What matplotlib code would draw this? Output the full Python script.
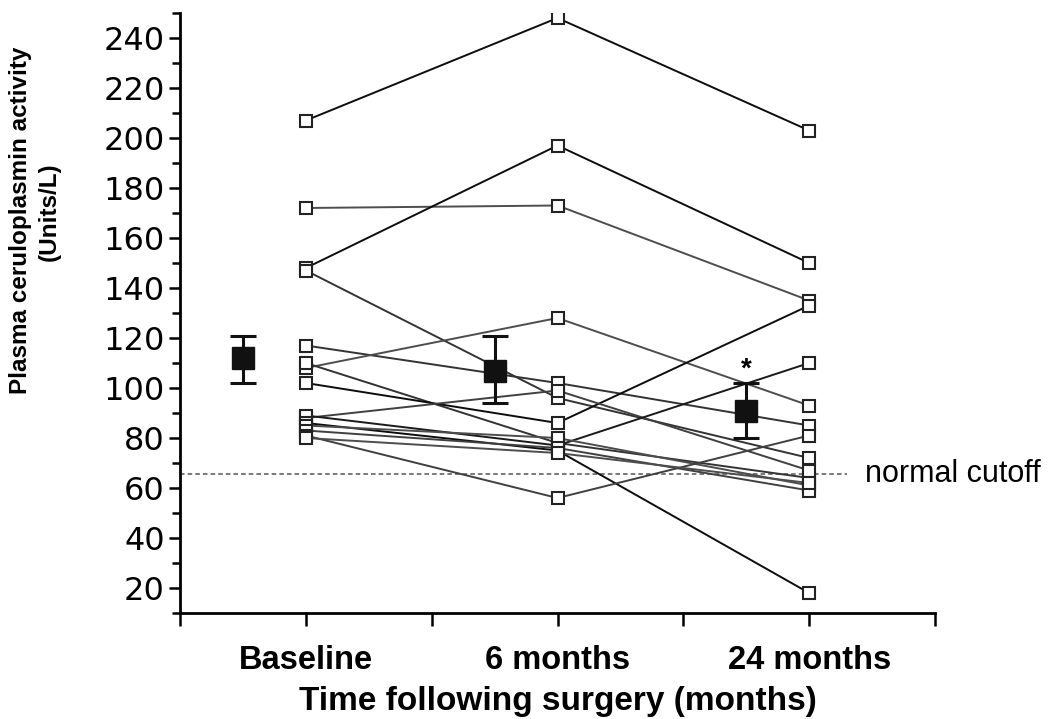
import matplotlib
matplotlib.use("Agg")
import matplotlib.pyplot as plt
from matplotlib.ticker import MultipleLocator

plt.rcParams['font.family'] = ['Liberation Sans', 'DejaVu Sans']

# ---- data ----
timepoints = ["Baseline", "6 months", "24 months"]
baseline = [207, 172, 148, 147, 117, 108, 110, 102, 88, 89, 86, 85, 83, 81, 80]
month6 = [248, 173, 197, 96, 102, 128, 78, 86, 99, 77, 75, 80, 76, 56, 74]
month24 = [203, 135, 150, 72, 85, 93, 64, 133, 67, 110, 18, 61, 59, 81, 62]
line_grey = [0.05, 0.3, 0.05, 0.2, 0.2, 0.3, 0.2, 0.05, 0.25, 0.1, 0.05, 0.3, 0.25, 0.25, 0.3]
mean_vals = [112, 107, 91]
mean_err_lo = [10, 13, 11]
mean_err_hi = [9, 14, 11]
cutoff = 65.5

fig = plt.figure(figsize=(10.5, 7.19), dpi=100)
ax = fig.add_axes([180/1050, 1-613/719, (935-180)/1050, (613-13)/719])

xs = [0, 1, 2]
for i in range(len(baseline)):
    g = line_grey[i]
    ax.plot(xs, [baseline[i], month6[i], month24[i]], '-', color=(g, g, g),
            lw=1.4, zorder=2)
    ax.plot(xs, [baseline[i], month6[i], month24[i]], 's', ms=8.5, mfc='white',
            mec='#222222', mew=1.5, zorder=3, ls='none')

mx = [x - 0.25 for x in xs]
ax.errorbar(mx, mean_vals, yerr=[mean_err_lo, mean_err_hi], fmt='s', ms=16,
            color='#111111', mfc='#111111', mec='#111111', ecolor='#111111',
            elinewidth=2.2, capsize=9.5, capthick=2.2, zorder=5)
ax.text(mx[2], mean_vals[2] + mean_err_hi[2] + 0.3, '*', ha='center', va='bottom',
        fontsize=20, fontweight='bold')

ax.plot([-0.5, 2.15], [cutoff, cutoff], ls=(0, (3, 2)), color='#555555', lw=1.1,
        zorder=1, clip_on=False)
ax.text(2.22, cutoff, 'normal cutoff', va='center', ha='left', fontsize=22)

ax.set_xlim(-0.5, 2.5)
ax.set_ylim(10, 250)
ax.set_xticks(xs)
ax.set_xticklabels(timepoints, fontsize=23.5, fontweight='bold')
ax.xaxis.set_minor_locator(MultipleLocator(0.5))
ax.set_yticks(range(20, 241, 20))
ax.set_yticklabels([str(v) for v in range(20, 241, 20)], fontsize=23,
                   family=['DejaVu Sans'])
ax.yaxis.set_minor_locator(MultipleLocator(10))
ax.tick_params(axis='y', which='major', length=8, width=1.8, pad=3)
ax.tick_params(axis='y', which='minor', length=6, width=1.8)
ax.tick_params(axis='x', which='both', length=9, width=1.8, pad=14)
for s in ['top', 'right']:
    ax.spines[s].set_visible(False)
for s in ['left', 'bottom']:
    ax.spines[s].set_linewidth(2)

ax.set_xlabel('Time following surgery (months)', fontsize=24, fontweight='bold',
              labelpad=7)
fig.text(21/1050, 1-220/719, 'Plasma ceruloplasmin activity', rotation=90,
         ha='center', va='center', fontsize=17.5, fontweight='bold')
fig.text(49/1050, 1-212/719, '(Units/L)', rotation=90,
         ha='center', va='center', fontsize=17.5, fontweight='bold')

fig.savefig('out.png', dpi=100)
